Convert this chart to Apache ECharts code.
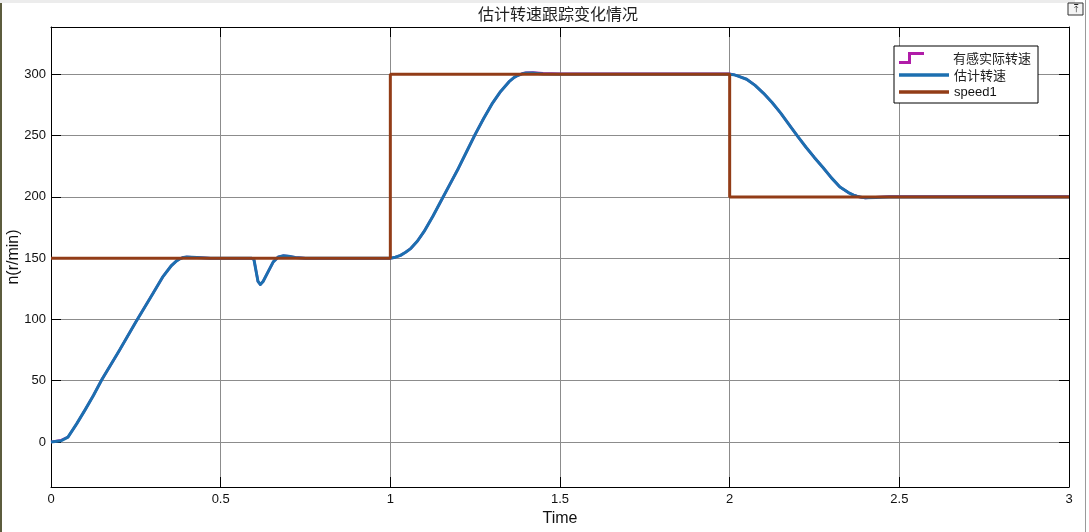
<!DOCTYPE html>
<html>
<head>
<meta charset="utf-8">
<script src="https://cdn.jsdelivr.net/npm/echarts@6/dist/echarts.min.js"></script>
<style>
html,body{margin:0;padding:0;background:#fff;}
#chart{width:1089px;height:532px;}
</style>
</head>
<body>
<div id="chart"></div>
<script>
// ---- data ----
var chartTitle = '估计转速跟踪变化情况';
var seriesNames = ['有感实际转速', '估计转速', 'speed1'];
var xTickLabels = ['0', '0.5', '1', '1.5', '2', '2.5', '3'];

// estimated speed (blue)
var estTime  = [0, 0.03, 0.05, 0.076, 0.10, 0.125, 0.15, 0.20, 0.25, 0.30, 0.33, 0.355, 0.37, 0.38, 0.39, 0.40, 0.43, 0.47, 0.59,
                0.598, 0.604, 0.61, 0.617, 0.625, 0.64, 0.655, 0.67, 0.685, 0.70, 0.72, 0.75, 1.0,
                1.015, 1.03, 1.045, 1.06, 1.08, 1.10, 1.125, 1.15, 1.175, 1.20, 1.225, 1.25, 1.275, 1.30, 1.325, 1.35, 1.365, 1.375, 1.39, 1.40, 1.42, 1.45, 1.5, 2.0,
                2.012, 2.025, 2.05, 2.075, 2.10, 2.125, 2.15, 2.175, 2.20, 2.225, 2.25, 2.275, 2.30, 2.325, 2.35, 2.365, 2.375, 2.39, 2.40, 2.43, 2.47, 3.0];
var estSpeed = [0, 1, 4, 15, 26, 38, 51, 74, 98, 121, 135, 144, 147.8, 149.5, 150.6, 151, 150.5, 150, 150,
                149, 140, 131, 128.5, 131, 139, 147, 151, 152, 151.5, 150.5, 150, 150,
                150.8, 152.3, 154.8, 157.8, 164, 172, 184, 197, 210, 223, 237, 251, 264, 276, 286, 294, 297.5, 299, 300.5, 301, 301, 300.3, 300, 300,
                299.7, 298.5, 296, 291, 284.5, 277, 268.5, 259, 249.5, 240.5, 232, 224, 215.5, 208, 203.5, 201.5, 200.5, 199.6, 199.2, 199.5, 200, 200];

// sensed actual speed (magenta), almost hidden under the estimate
var actTime  = [0, 0.03, 0.05, 0.076, 0.10, 0.125, 0.15, 0.20, 0.25, 0.30, 0.33, 0.355, 0.37, 0.38, 0.39, 0.40, 0.43, 0.47, 0.59,
                0.598, 0.604, 0.61, 0.617, 0.625, 0.64, 0.655, 0.67, 0.685, 0.70, 0.72, 0.75, 1.0,
                1.015, 1.03, 1.045, 1.06, 1.08, 1.10, 1.125, 1.15, 1.175, 1.20, 1.225, 1.25, 1.275, 1.30, 1.325, 1.35, 1.365, 1.375, 1.39, 1.40, 1.42, 1.45, 1.5, 2.0,
                2.012, 2.025, 2.05, 2.075, 2.10, 2.125, 2.15, 2.175, 2.20, 2.225, 2.25, 2.275, 2.30, 2.325, 2.35, 2.365, 2.375, 2.39, 2.40, 2.43, 2.47, 3.0];
var actSpeed = [0, 1.5, 4, 15, 26, 38, 51, 74, 98, 121, 135, 144, 147.8, 149.5, 150.6, 151, 150.5, 150, 150,
                149, 140, 131, 128.5, 131, 139, 147, 151, 152, 151.5, 150.5, 150, 150,
                150.8, 152.3, 154.8, 157.8, 164, 172, 184, 197, 210, 223, 237, 251, 264, 276, 286, 294, 297.5, 299, 300.8, 301.3, 301.5, 300.8, 300.5, 300.4,
                299.7, 298.5, 296, 291, 284.5, 277, 268.5, 259, 249.5, 240.5, 232, 224, 215.5, 208, 203.5, 201.5, 200.5, 199.4, 199, 199.8, 200.4, 200.4];

// reference speed1 (brown step)
var refTime  = [0, 1, 1, 2, 2, 3];
var refSpeed = [150, 150, 300, 300, 200, 200];

// ---- chart ----
function pairs(t, v) { return t.map(function (x, i) { return [x, v[i]]; }); }

var FONT = '"Liberation Sans", Arial, "Noto Sans CJK SC", sans-serif';
var CJK = '"Noto Sans CJK SC", "Liberation Sans", sans-serif';
var BLUE = '#1c6fb0', BROWN = '#923c17', MAG = '#b01ca8';

var chart = echarts.init(document.getElementById('chart'), null, {renderer: 'canvas'});

var tickStyle = {show: true, inside: true, length: 10, lineStyle: {color: '#000', width: 1}};
var lineAxis = {show: true, onZero: false, lineStyle: {color: '#000', width: 1}};
var grid = {show: true, lineStyle: {color: '#8c8c8c', width: 1}};

var option = {
  animation: false,
  backgroundColor: '#fff',
  title: {
    text: chartTitle, left: 553, top: 1, textAlign: 'center',
    textStyle: {fontFamily: CJK, fontWeight: 'normal', fontSize: 16, color: '#222'}
  },
  grid: {left: 51, right: 20, top: 27, bottom: 45, containLabel: false, outerBoundsMode: 'none'},
  xAxis: [{
    type: 'value', min: 0, max: 3, interval: 0.5, position: 'bottom',
    name: 'Time', nameLocation: 'middle', nameGap: 24, nameMoveOverlap: false,
    nameTextStyle: {fontFamily: FONT, fontSize: 16, color: '#111'},
    axisLine: lineAxis, axisTick: tickStyle, splitLine: grid,
    axisLabel: {fontFamily: FONT, fontSize: 13, color: '#111', margin: 6,
      formatter: function (v) { return xTickLabels[Math.round(v / 0.5)]; }}
  }, {
    type: 'value', min: 0, max: 3, interval: 0.5, position: 'top',
    axisLine: lineAxis, axisTick: tickStyle, splitLine: {show: false}, axisLabel: {show: false}
  }],
  yAxis: [{
    type: 'value', min: -36.7, max: 338.6, splitNumber: 7, position: 'left',
    name: 'n(r/min)', nameLocation: 'middle', nameGap: 29, nameMoveOverlap: false,
    nameTextStyle: {fontFamily: FONT, fontSize: 16, color: '#111'},
    axisLine: lineAxis, axisTick: tickStyle, splitLine: grid,
    axisLabel: {fontFamily: FONT, fontSize: 13, color: '#111', margin: 5, showMinLabel: false, showMaxLabel: false}
  }, {
    type: 'value', min: -36.7, max: 338.6, splitNumber: 7, position: 'right',
    axisLine: lineAxis, axisTick: tickStyle, splitLine: {show: false}, axisLabel: {show: false}
  }],
  legend: [{
    data: [seriesNames[0]], left: 894, top: 45, z: 10, orient: 'vertical',
    itemWidth: 25, itemHeight: 12, itemGap: 0,
    icon: 'path://M0,9 L9,9 L9,0 L25,0 L25,3 L12,3 L12,12 L0,12 Z',
    textStyle: {fontFamily: CJK, fontSize: 13, color: '#222', padding: [0, 0, 0, 24], lineHeight: 16}
  }, {
    data: [seriesNames[1]], left: 894, top: 62, z: 10,
    itemWidth: 50, itemHeight: 3.5, icon: 'rect',
    textStyle: {fontFamily: CJK, fontSize: 13, color: '#222', lineHeight: 16}
  }, {
    data: [seriesNames[2]], left: 894, top: 79, z: 10,
    itemWidth: 50, itemHeight: 3.5, icon: 'rect',
    textStyle: {fontFamily: FONT, fontSize: 13, color: '#111', lineHeight: 16}
  }],
  graphic: [
    {type: 'rect', z: 5, shape: {x: 894, y: 46, width: 144, height: 57},
      style: {fill: '#fff', stroke: '#000', lineWidth: 1}},
    {type: 'rect', z: 1, shape: {x: 0, y: 0, width: 2, height: 532}, style: {fill: '#5c5c3e'}},
    {type: 'rect', z: 1, shape: {x: 0, y: 0, width: 1075, height: 3}, style: {fill: '#ececec'}},
    {type: 'line', z: 1, shape: {x1: 1085.5, y1: 0, x2: 1085.5, y2: 532}, style: {stroke: '#9a9a9a', lineWidth: 1}},
    {type: 'rect', z: 1, shape: {x: 1068, y: 3, width: 15, height: 12}, style: {fill: '#f4f4f4', stroke: '#333', lineWidth: 1}},
    {type: 'text', z: 2, x: 1075.5, y: 4, style: {text: '⤒', fill: '#222', font: '10px "DejaVu Sans"', align: 'center'}}
  ],
  series: [{
    name: seriesNames[0], type: 'line', xAxisIndex: 0, yAxisIndex: 0,
    data: pairs(actTime, actSpeed), showSymbol: false, smooth: false, z: 2,
    color: MAG, itemStyle: {color: MAG}, lineStyle: {color: MAG, width: 2.5, join: 'round'}
  }, {
    name: seriesNames[1], type: 'line', xAxisIndex: 0, yAxisIndex: 0,
    data: pairs(estTime, estSpeed), showSymbol: false, smooth: false, z: 3,
    color: BLUE, itemStyle: {color: BLUE}, lineStyle: {color: BLUE, width: 3, join: 'round'}
  }, {
    name: seriesNames[2], type: 'line', xAxisIndex: 0, yAxisIndex: 0,
    data: pairs(refTime, refSpeed), showSymbol: false, z: 4,
    color: BROWN, itemStyle: {color: BROWN}, lineStyle: {color: BROWN, width: 3}
  }]
};
chart.setOption(option);
</script>
</body>
</html>
